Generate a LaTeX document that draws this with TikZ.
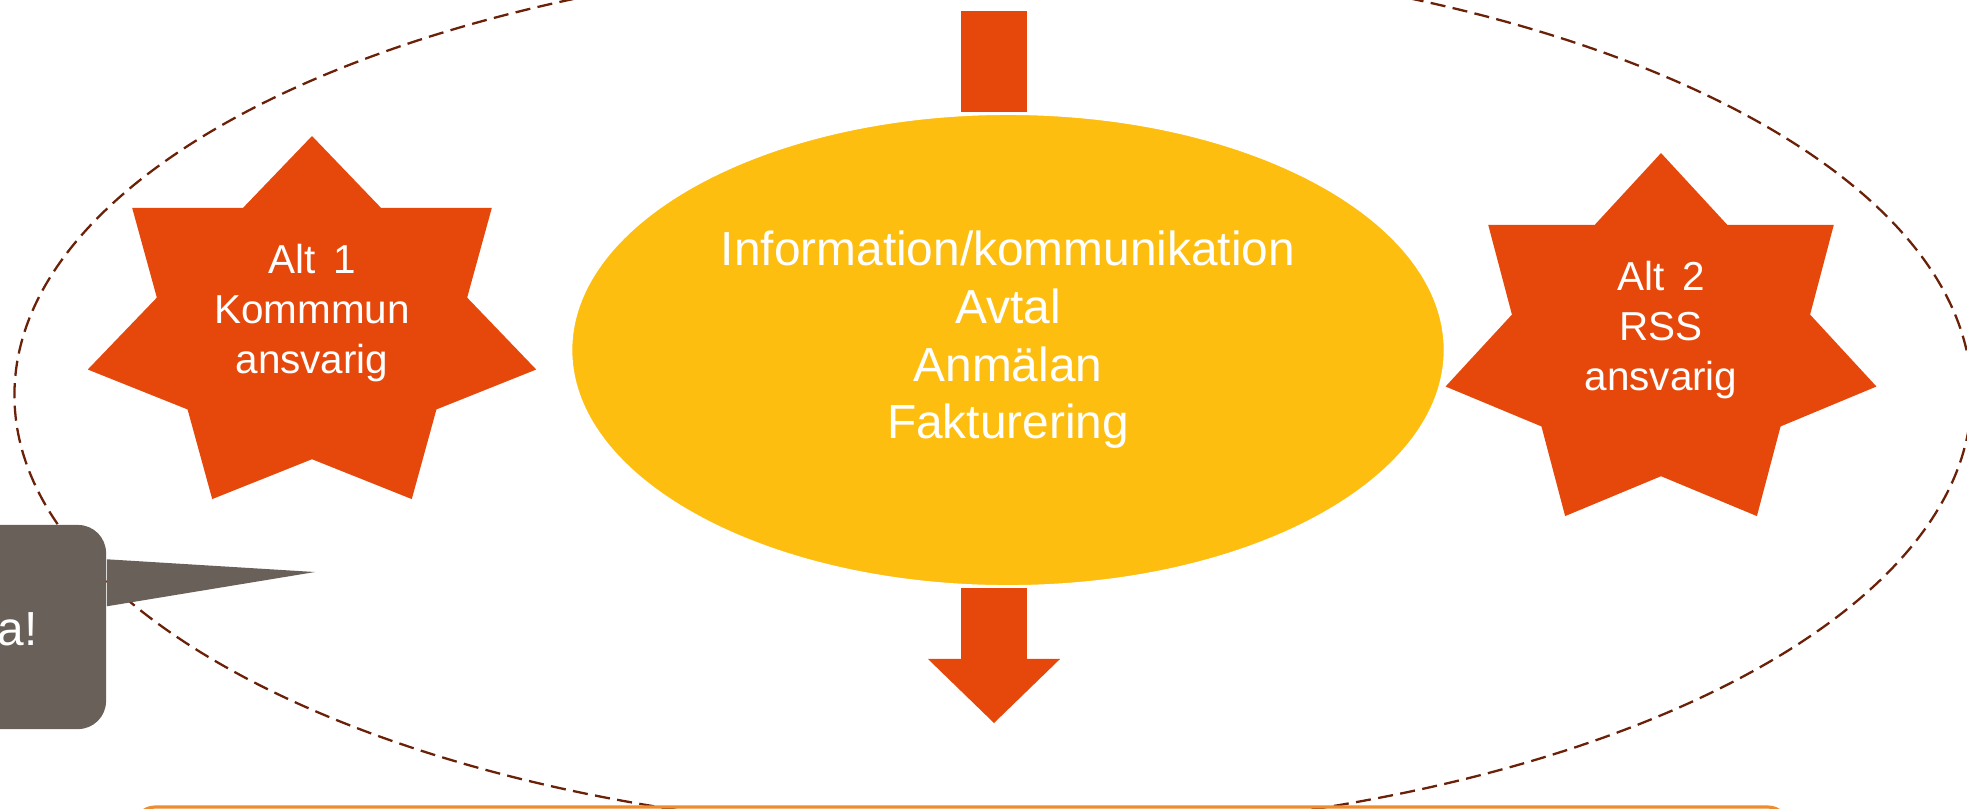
\documentclass[tikz,border=0pt]{standalone}
\usepackage{fontspec}
\setmainfont{Liberation Sans}
\usepackage{tikz}
\usetikzlibrary{shapes}
\usetikzlibrary{arrows.meta}
\definecolor{rodorange}{HTML}{E6480C}
\definecolor{gul}{HTML}{FDBE10}
\definecolor{brun}{HTML}{6B2008}
\definecolor{boblegraa}{HTML}{696059}
\definecolor{lysorange}{HTML}{EE8C30}
\tikzset{
	sone/.style={ellipse, draw=brun, line width=0.65pt, dash pattern=on 4.3pt off 2.1pt,
		minimum width=19.56cm, minimum height=8.76cm, inner sep=0pt},
	kjerne/.style={ellipse, fill=gul, draw=white, line width=0.9pt,
		minimum width=8.74cm, minimum height=4.73cm, inner sep=0pt},
	blokk/.style={draw=rodorange, line width=0.66cm},
	blokkpil/.style={blokk, -{Triangle[width=1.32cm, length=0.64cm, line width=0pt]}},
	stjerne/.style={fill=rodorange},
	hvit/.style={text=white, align=center, inner sep=0pt},
	kjernetekst/.style={hvit, font=\fontsize{13.6pt}{16.4pt}\selectfont},
	stjernetekst/.style={hvit, font=\fontsize{11.5pt}{14.2pt}\selectfont},
	boble/.style={fill=boblegraa, rounded corners=0.28cm, minimum width=2.56cm,
		minimum height=2.04cm, inner sep=0pt},
	ramme/.style={draw=lysorange, line width=0.9pt, rounded corners=0.2cm},
}

\begin{document}
\begin{tikzpicture}[x=0.01cm, y=0.01cm]
	\useasboundingbox (0,0) rectangle (1967,-808);
	\clip (0,0) rectangle (1967,-808);
	\node[sone] (sone) at (993,-395) {};
	\draw[ramme] (135,-807) rectangle (1788,-900);
%
	\node[boble] (boble) at (-22,-627) {};
	\coordinate (spiss) at (315,-572);
	\fill[boblegraa] ([yshift=-0.35cm]boble.north east) -- (spiss) -- ([yshift=-0.82cm]boble.north east) -- cycle;
	\node[kjernetekst, anchor=base east] (utrop) at (38,-645) {a!};
%
	\foreach \navn/\cx/\cy/\rx/\tekst in {alt1/312/327/230/{Alt\hspace{0.45em}1\\Kommmun\\ansvarig},
		alt2/1661/344/221/{Alt\hspace{0.45em}2\\RSS\\ansvarig}} {
		\fill[stjerne, shift={(\cx,-\cy)}] (90:{\rx} and 191)
			\foreach \i in {0,...,6} {-- ({90+(2*\i+1)*180/7}:{0.692*\rx} and 132.2) -- ({90+(\i+1)*360/7}:{\rx} and 191)} -- cycle;
		\node[stjernetekst] (\navn) at (\cx,{14-\cy}) {\tekst};
	}
%
	\node[kjerne] (kjerne) at (1008,-350) {};
	\coordinate (inn) at (994,-11);
	\coordinate (ut) at (994,-723);
	\draw[blokk] (inn) -- (kjerne.north -| inn);
	\draw[blokkpil] (kjerne.south -| ut) -- (ut);
	\node[kjernetekst] (innhold) at ([yshift=0.1cm]kjerne.center)
		{Information/kommunikation\\Avtal\\Anmälan\\Fakturering};
\end{tikzpicture}
\end{document}
